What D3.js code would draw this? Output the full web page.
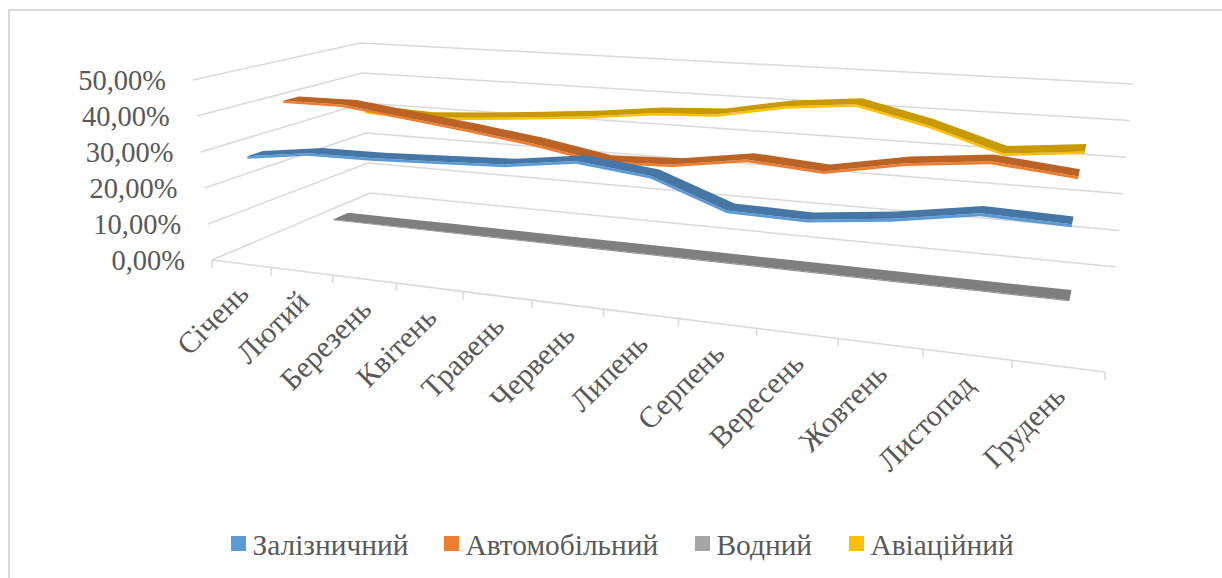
<!DOCTYPE html>
<html>
<head>
<meta charset="utf-8">
<script src="https://cdn.jsdelivr.net/npm/d3@7"></script>
<style>
  html, body { margin: 0; padding: 0; background: #fff; }
  text { font-family: "Liberation Serif", serif; fill: #595959; }
</style>
</head>
<body>
<svg id="chart" width="1222" height="578"></svg>
<script>
// Monthly share of freight by transport mode, drawn as a 3-D line chart.
const months = ["Січень","Лютий","Березень","Квітень","Травень","Червень","Липень","Серпень","Вересень","Жовтень","Листопад","Грудень"];
const rail = [28.2,30.6,30.8,31.5,32.3,34.8,32.7,25.8,25.4,27.5,30.7,30.1];
const road = [40.7,40.9,38.7,36.5,34.1,30.8,31.6,34.5,33.1,36.8,38.9,36.9];
const water = [1,1,1,1,1,1,1,1,1,1,1,1];
const air = [30.3,29.6,30.8,32.3,33.9,36.1,37.1,40.7,42.6,38,31.8,33.9];
const valueTicks = [0,10,20,30,40,50];
const legendLabels = ["Залізничний","Автомобільний","Водний","Авіаційний"];

// Series listed back to front so nearer ribbons paint over farther ones.
const ribbons = [
  {values: air,   slot: 3, top: "#c99a00", edge: "#ffc000", lit: 0.7},
  {values: water, slot: 2, top: "#7f7f7f", edge: "#8f8f8f", lit: 0.25},
  {values: road,  slot: 1, top: "#bb6325", edge: "#ed7d31", lit: 0.7},
  {values: rail,  slot: 0, top: "#4676a6", edge: "#5b9bd5", lit: 0.7}
];
const legendColors = ["#5b9bd5","#ed7d31","#a5a5a5","#ffc000"];

// Eight corners of the plot box as seen by the camera.
const box = {
  fl0: [212,260], fl50: [193,80],
  bl0: [370,193], bl50: [360,43],
  fr0: [1105,372], fr50: [1128,147],
  br0: [1116,267], br50: [1133,84]
};

const vScale = d3.scaleLinear().domain([0,50]).range([0,1]);
const depthScale = d3.scaleLinear().domain([0,1]).range([0,1]);
// Foreshortening along the category axis: the near-right end is closer to the camera.
const foreshorten = t => t / (t + (1 - t) * 1.28);
const catScale = d3.scaleBand().domain(d3.range(months.length)).range([0,1]);
const mix = d3.interpolateNumber;

function project(t, d, value) {
  const u = foreshorten(t), w = vScale(value), dd = depthScale(d);
  const blend = k => {
    const lerp = (a, b, f) => mix(a, b)(f);
    const front = lerp(lerp(box.fl0[k], box.fr0[k], u), lerp(box.fl50[k], box.fr50[k], u), w);
    const back = lerp(lerp(box.bl0[k], box.br0[k], u), lerp(box.bl50[k], box.br50[k], u), w);
    return lerp(front, back, dd);
  };
  return [blend(0), blend(1)];
}

const svg = d3.select("#chart");

// Chart frame: its right and bottom edges run off the page
svg.append("rect").attr("x", 9).attr("y", 10).attr("width", 1230).attr("height", 590)
  .attr("fill", "#fff").attr("stroke", "#d9d9d9").attr("stroke-width", 2);

const grid = svg.append("g").attr("stroke", "#d9d9d9").attr("stroke-width", 1.5).attr("fill", "none");
const line = d3.line();

// Side wall and back wall gridlines
valueTicks.forEach(v => {
  grid.append("path").attr("d", line([project(0,0,v), project(0,1,v), project(1,1,v)]));
});

// Category axis with tick marks
grid.append("path").attr("d", line([project(0,0,0), project(1,0,0)]));
d3.range(months.length + 1).forEach(i => {
  const p = project(i / months.length, 0, 0);
  grid.append("path").attr("d", line([p, [p[0], p[1] + 8]]));
});

// Value labels along the near-left edge
svg.append("g").selectAll("text").data(valueTicks).join("text")
  .attr("x", v => project(0,0,v)[0] - 27)
  .attr("y", v => project(0,0,v)[1] + 10)
  .attr("text-anchor", "end")
  .attr("font-size", 28.5)
  .text(v => d3.format(".2f")(v).replace(".", ",") + "%");

// Category labels, rotated along the axis
svg.append("g").selectAll("text").data(months).join("text")
  .attr("text-anchor", "end")
  .attr("font-size", 30)
  .attr("transform", (m, i) => {
    const p = project(catScale(i) + catScale.bandwidth() / 2, 0, 0);
    return `translate(${p[0] + 9},${p[1] + 32}) rotate(-45)`;
  })
  .text(m => m);

// Each ribbon has a flat top face and a thin lit front face.
const ribbonDepth = 0.1, slotStart = 0.1, slotStep = 0.25;
const facePath = pts => line(pts) + "Z";
ribbons.forEach(r => {
  const d0 = slotStart + slotStep * r.slot, d1 = d0 + ribbonDepth;
  const ts = months.map((m, i) => catScale(i) + catScale.bandwidth() / 2);
  const frontTop = r.values.map((v, i) => project(ts[i], d0, v));
  const backTop = r.values.map((v, i) => project(ts[i], d1, v));
  const frontLow = r.values.map((v, i) => project(ts[i], d0, v - r.lit));
  const g = svg.append("g");
  g.append("path").attr("d", facePath(frontTop.concat(frontLow.slice().reverse()))).attr("fill", r.edge);
  g.append("path").attr("d", facePath(frontTop.concat(backTop.slice().reverse()))).attr("fill", r.top);
});

// Legend
const legendSwatchX = d3.scaleOrdinal().domain(legendLabels).range([231,444,695,849]);
const legend = svg.append("g");
legendLabels.forEach((name, i) => {
  legend.append("rect").attr("x", legendSwatchX(name)).attr("y", 536).attr("width", 15).attr("height", 15).attr("fill", legendColors[i]);
  legend.append("text").attr("x", legendSwatchX(name) + 21.5).attr("y", 555).attr("font-size", 29.4).text(name);
});
</script>
</body>
</html>
